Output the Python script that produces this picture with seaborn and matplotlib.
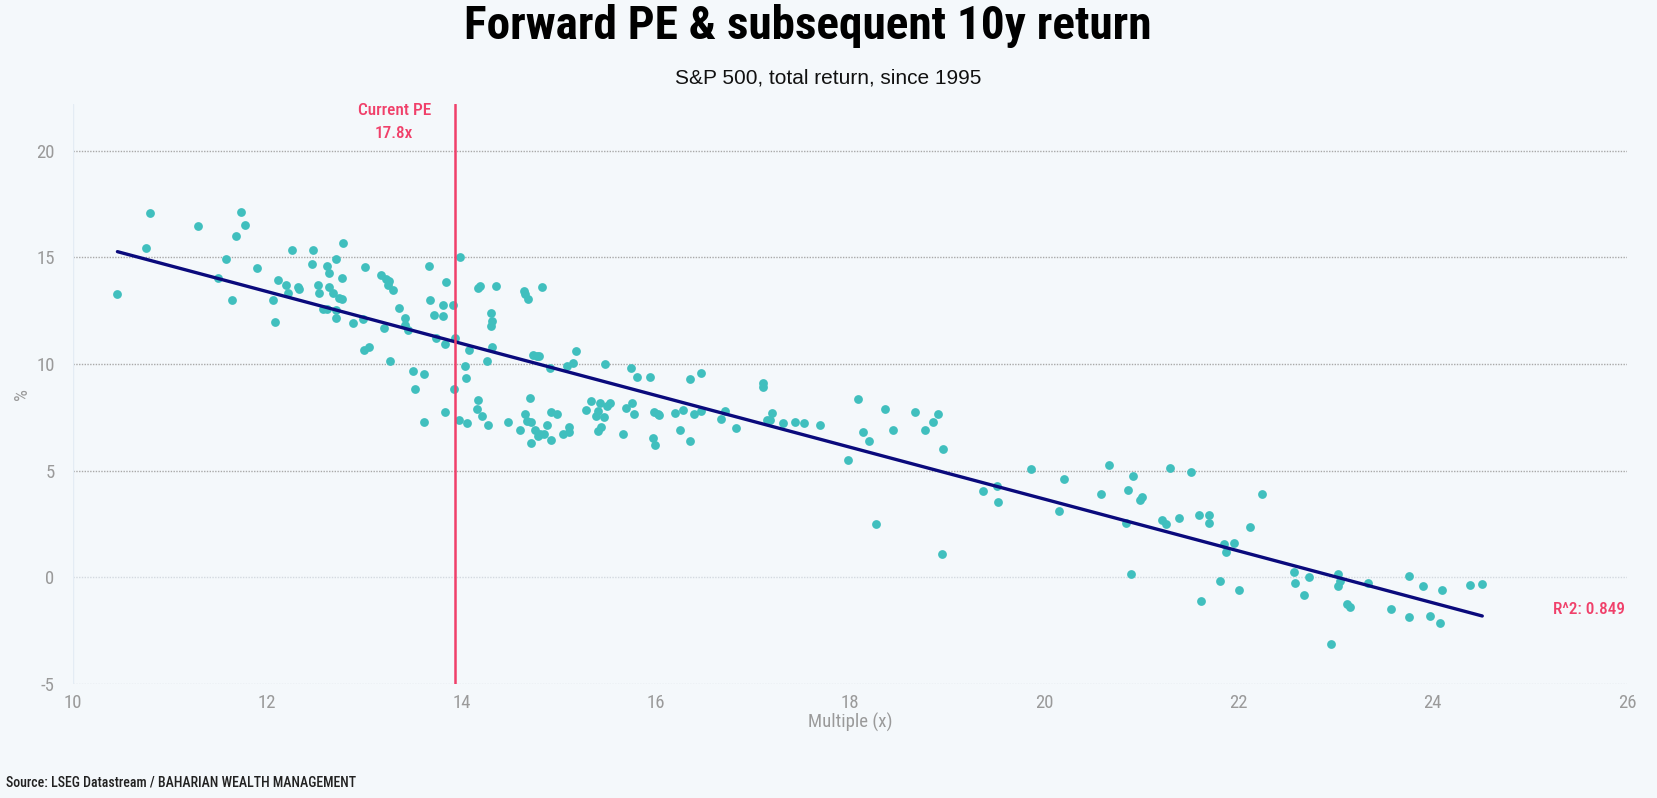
import os
import matplotlib
matplotlib.use("Agg")
import matplotlib.pyplot as plt
from matplotlib import font_manager as fm
import pandas as pd
import seaborn as sns

# Forward PE multiple and subsequent 10y annualised return (%)
multiple = [
    10.46, 10.80, 10.75, 11.29, 11.73, 11.77, 11.68, 11.58, 11.50, 11.64,
    11.90, 12.06, 12.08, 12.11, 12.20, 12.22, 12.26, 12.32, 12.33, 12.47,
    12.46, 12.52, 12.54, 12.58, 12.62, 12.64, 12.64, 12.68, 12.71, 12.78,
    12.77, 12.74, 12.77, 12.62, 12.71, 12.71, 12.88, 12.99, 13.01, 13.00,
    13.05, 13.17, 13.22, 13.26, 13.25, 13.30, 13.20, 13.27, 13.36, 13.42,
    13.42, 13.45, 13.50, 13.52, 13.62, 13.62, 13.67, 13.68, 13.72, 13.74,
    13.81, 13.81, 13.84, 13.83, 13.83, 13.91, 13.94, 13.92, 13.99, 13.98,
    14.06, 14.04, 14.05, 14.08, 14.17, 14.17, 14.16,
    14.19, 14.36, 14.31, 14.32, 14.31, 14.32, 14.26, 14.21, 14.27, 14.48,
    14.60, 14.65, 14.66, 14.69, 14.83, 14.66, 14.71, 14.68, 14.72, 14.76,
    14.79, 14.81, 14.85, 14.72, 14.88, 14.92, 14.99, 14.92, 14.74, 14.78,
    14.80, 14.91, 15.05, 15.11, 15.11, 15.09, 15.15, 15.18, 15.28, 15.34,
    15.43, 15.41, 15.39, 15.47, 15.41, 15.44, 15.50, 15.53, 15.48, 15.66,
    15.70, 15.76, 15.78, 15.75, 15.81, 15.94, 15.97, 15.99, 15.98, 16.03,
    16.02, 16.20, 16.25, 16.28, 16.35, 16.35, 16.40, 16.47, 16.47, 16.67,
    16.71, 16.83, 17.11, 17.11, 17.15, 17.18, 17.20, 17.31, 17.44, 17.53,
    17.69,
    17.98, 18.08, 18.13, 18.20, 18.27, 18.36, 18.44, 18.67, 18.77, 18.86,
    18.91, 18.96, 18.95, 19.37, 19.51, 19.52, 19.86, 20.15, 20.20, 20.58,
    20.67, 20.84, 20.86, 20.89, 20.91, 20.99, 21.01, 21.21, 21.25, 21.30,
    21.39, 21.51, 21.59,
    21.70, 21.70, 21.61, 21.81, 21.85, 21.87, 21.95, 22.01, 22.12, 22.24,
    22.57, 22.58, 22.67, 22.73, 22.95, 23.02, 23.02, 23.05, 23.12, 23.15,
    23.33, 23.57, 23.76, 23.76, 23.90, 23.97, 24.07, 24.10, 24.38, 24.51,
]
ten_year_return = [
    13.30, 17.07, 15.42, 16.46, 17.12, 16.53, 15.99, 14.91, 14.02, 13.00,
    14.49, 13.00, 11.97, 13.93, 13.72, 13.33, 15.33, 13.61, 13.51, 15.33,
    14.71, 13.72, 13.31, 12.59, 14.60, 14.29, 13.62, 13.31, 14.91, 15.68,
    14.04, 13.10, 13.07, 12.59, 12.52, 12.18, 11.92, 12.12, 14.55, 10.68,
    10.79, 14.18, 13.99, 13.90, 13.72, 13.47, 11.70, 10.12, 12.65, 12.14,
    11.81, 11.59, 9.66, 8.82, 9.55, 7.28, 14.60, 13.00, 12.28, 11.24,
    12.79, 12.23, 13.84, 10.93, 7.74, 12.79, 11.21, 8.82, 15.02, 7.38,
    7.23, 9.91, 9.33, 10.67, 13.56, 8.30, 7.90,
    13.65, 13.65, 12.41, 12.02, 11.79, 10.81, 10.14, 7.55, 7.13, 7.28,
    6.93, 13.42, 13.28, 13.07, 13.59, 7.66, 8.43, 7.34, 7.28, 6.93,
    6.61, 6.72, 6.72, 6.30, 7.13, 7.75, 7.66, 6.46, 10.43, 10.39,
    10.39, 9.83, 6.71, 6.80, 7.03, 9.92, 10.03, 10.61, 7.86, 8.28,
    8.17, 7.81, 7.55, 7.50, 6.88, 7.03, 8.01, 8.17, 9.98, 6.72,
    7.92, 8.17, 7.66, 9.83, 9.41, 9.41, 6.52, 6.21, 7.75, 7.59,
    7.66, 7.70, 6.93, 7.86, 9.30, 6.37, 7.66, 9.57, 7.81, 7.44,
    7.81, 6.99, 9.10, 8.90, 7.39, 7.39, 7.70, 7.24, 7.28, 7.24,
    7.14,
    5.52, 8.34, 6.83, 6.41, 2.49, 7.87, 6.93, 7.76, 6.93, 7.26,
    7.66, 6.03, 1.08, 4.06, 4.28, 3.54, 5.06, 3.12, 4.59, 3.90,
    5.27, 2.55, 4.11, 0.16, 4.73, 3.64, 3.75, 2.71, 2.51, 5.11,
    2.76, 4.95, 2.91,
    2.91, 2.54, -1.13, -0.15, 1.58, 1.21, 1.61, -0.60, 2.38, 3.89,
    0.26, -0.25, -0.82, 0.02, -3.14, 0.17, -0.40, -0.19, -1.27, -1.38,
    -0.28, -1.49, 0.08, -1.84, -0.40, -1.80, -2.15, -0.60, -0.36, -0.29,
]
x_ticks = [10, 12, 14, 16, 18, 20, 22, 24, 26]
y_ticks = [-5, 0, 5, 10, 15, 20]
current_pe_pos = 13.93
current_pe_text = "Current PE\n17.8x"
r2_text = "R^2: 0.849"

BG = "#f4f8fb"
TEAL = "#40bfbe"
NAVY = "#0a0a7c"
PINK = "#f0406a"
GREY = "#9a9a9a"

# condensed faces, if the system has them
font_files = {os.path.basename(f.fname): f.fname for f in fm.fontManager.ttflist}

def pick(size, *names):
    for n in names:
        if n in font_files:
            return fm.FontProperties(fname=font_files[n], size=size)
    return fm.FontProperties(family="DejaVu Sans", size=size)

title_fp = pick(34, "RobotoCondensed-Bold.ttf", "DejaVuSansCondensed-Bold.ttf",
                "LiberationSansNarrow-Bold.ttf")
tick_fp = pick(13.5, "RobotoCondensed-Regular.ttf", "DejaVuSansCondensed.ttf",
               "LiberationSansNarrow-Regular.ttf")
note_fp = pick(12.4, "RobotoCondensed-Medium.ttf", "RobotoCondensed-Regular.ttf",
               "DejaVuSansCondensed.ttf", "LiberationSansNarrow-Regular.ttf")
source_fp = pick(10, "RobotoCondensed-Medium.ttf", "RobotoCondensed-Regular.ttf",
                 "DejaVuSansCondensed.ttf", "LiberationSansNarrow-Regular.ttf")

sns.set_style("white", {"axes.facecolor": BG, "figure.facecolor": BG})
plt.rcParams["font.family"] = ["Liberation Sans", "DejaVu Sans"]
plt.rcParams["axes.unicode_minus"] = False

df = pd.DataFrame({"Multiple": multiple, "Return": ten_year_return})

fig = plt.figure(figsize=(16.57, 7.98), dpi=100)
ax = fig.add_axes([0.0439, 0.1429, 0.938, 0.727])

# dotted horizontal grid, lighter at 0 and -5
for yv in y_ticks:
    ax.axhline(yv, color="#d3d9df" if yv <= 0 else "#a9a9a9", lw=1,
               ls=(0, (1, 1)), zorder=0)
ax.axvline(10, color="#e4ecf4", lw=1, zorder=0)

sns.scatterplot(data=df, x="Multiple", y="Return", color=TEAL, s=40,
                linewidth=0, ax=ax, zorder=3)
sns.regplot(data=df, x="Multiple", y="Return", scatter=False, ci=None,
            color=NAVY, line_kws={"lw": 2.4, "zorder": 4}, ax=ax)

ax.axvline(current_pe_pos, color=PINK, lw=1.8, zorder=5)
ax.text(13.31, 21.35, current_pe_text, color=PINK, fontproperties=note_fp,
        ha="center", va="center", linespacing=1.6)
ax.text(25.98, -1.51, r2_text, color=PINK, fontproperties=note_fp,
        ha="right", va="center")

ax.set_xlim(10, 26)
ax.set_ylim(-5, 22.2)
ax.set_xticks(x_ticks)
ax.set_yticks(y_ticks)
ax.tick_params(length=0)
ax.tick_params(axis="y", pad=13)
ax.tick_params(axis="x", pad=7)
for lab in ax.get_xticklabels() + ax.get_yticklabels():
    lab.set_fontproperties(tick_fp)
    lab.set_color(GREY)
ax.set_xlabel("Multiple (x)", fontproperties=tick_fp, color=GREY, labelpad=1)
ax.set_ylabel("%", fontproperties=tick_fp, color=GREY, labelpad=3.5)
sns.despine(ax=ax, left=True, bottom=True)

fig.text(0.4876, 0.951, "Forward PE & subsequent 10y return",
         fontproperties=title_fp, ha="center", va="baseline", color="black")
fig.text(0.5, 0.895, "S&P 500, total return, since 1995", fontsize=15,
         ha="center", va="baseline", color="#111111")
fig.text(0.0036, 0.015, "Source: LSEG Datastream / BAHARIAN WEALTH MANAGEMENT",
         fontproperties=source_fp, ha="left", va="baseline", color="#222222")

fig.savefig("out.png", dpi=100, facecolor=BG)
